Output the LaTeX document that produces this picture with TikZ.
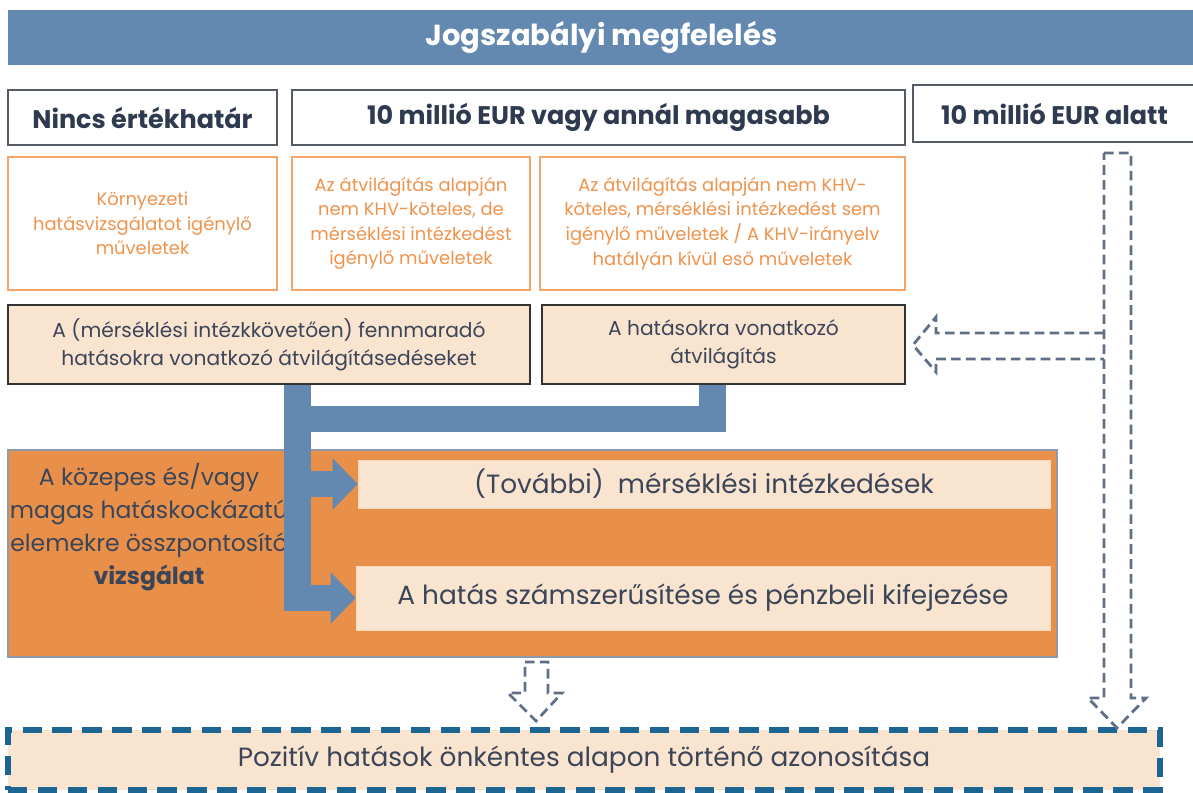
\documentclass[tikz,border=0pt]{standalone}
\usepackage{fontspec}
\setmainfont{Poppins}
\usetikzlibrary{arrows.meta}

\definecolor{titleblue}{HTML}{6389B0}
\definecolor{hdrtext}{HTML}{2E3A4F}
\definecolor{hdrline}{HTML}{565B68}
\definecolor{orline}{HTML}{F4A56A}
\definecolor{ortext}{HTML}{F0934C}
\definecolor{beige}{HTML}{F9E4D0}
\definecolor{bigorange}{HTML}{E89049}
\definecolor{slate}{HTML}{5F6F86}
\definecolor{dashblue}{HTML}{1A6592}
\definecolor{bodytext}{HTML}{3C4558}

\tikzset{
  hdrbox/.style={rectangle,draw=hdrline,line width=0.9pt,fill=white,text=hdrtext,font=\fontsize{14.5}{17}\selectfont\bfseries,minimum height=1.1cm},
  opbox/.style={rectangle,draw=orline,line width=0.8pt,fill=white,text=ortext,font=\fontsize{10.2}{14}\selectfont,align=center,minimum height=2.66cm},
  scrbox/.style={rectangle,draw=black!80,line width=0.9pt,fill=beige,text=bodytext,font=\fontsize{11.5}{16}\selectfont,align=center,minimum height=1.58cm},
  measbox/.style={rectangle,fill=beige,draw=beige!90!orange,text=bodytext,font=\fontsize{15}{18}\selectfont},
  pipe/.style={draw=titleblue,line width=0.54cm,line join=miter},
  pipearrow/.style={pipe,-{Triangle[width=1cm,length=0.5cm]}},
  blockarrow/.style={draw=slate,line width=1.6pt,dash pattern=on 5.5pt off 3pt,line join=miter},
}

\begin{document}
\begin{tikzpicture}[x=0.02cm,y=-0.02cm]
  \useasboundingbox (0,0) rectangle (1193,793);

  % title bar
  \node[rectangle,fill=titleblue,text=white,font=\fontsize{16.5}{19}\selectfont\bfseries,minimum width=23.74cm,minimum height=1.1cm] (title) at (601.5,37.5) {Jogszabályi megfelelés};

  % value thresholds
  \node[hdrbox,minimum width=5.38cm] (nolimit) at (142.5,117.5) {Nincs értékhatár};
  \node[hdrbox,minimum width=12.26cm] (above) at (598.5,117.5) {10 millió EUR vagy annál magasabb};
  \node[hdrbox,minimum width=5.66cm,minimum height=1.14cm] (below) at (1054.5,113.5) {10 millió EUR alatt};

  % operations
  \node[opbox,minimum width=5.38cm] (eia) at (142.5,223.5) {Környezeti\\hatásvizsgálatot igénylő\\műveletek};
  \node[opbox,minimum width=4.76cm] (mitig) at (411,223.5) {Az átvilágítás alapján\\nem KHV-köteles, de\\mérséklési intézkedést\\igénylő műveletek};
  \node[opbox,minimum width=7.3cm] (noeia) at (722.5,223.5) {Az átvilágítás alapján nem KHV-\\köteles, mérséklési intézkedést sem\\igénylő műveletek / A KHV-irányelv\\hatályán kívül eső műveletek};

  % screening
  \node[scrbox,minimum width=10.44cm] (resid) at (269,344.5) {A (mérséklési intézkkövetően) fennmaradó\\hatásokra vonatkozó átvilágításedéseket};
  \node[scrbox,minimum width=7.26cm] (screen) at (723.5,344.5) {A hatásokra vonatkozó\\átvilágítás};

  % focused assessment
  \node[rectangle,fill=bigorange,draw=slate!70,line width=0.8pt,minimum width=20.98cm,minimum height=4.14cm] (focus) at (532.5,553.5) {};
  \node[text=bodytext,font=\fontsize{13.4}{18.7}\selectfont,align=center] (focustxt) at (149,527) {A közepes és/vagy\\magas hatáskockázatú\\elemekre összpontosító\\\textbf{vizsgálat}};
  \node[measbox,minimum width=13.84cm,minimum height=0.96cm] (further) at (704,484) {(További) \ mérséklési intézkedések};
  \node[measbox,minimum width=13.88cm,minimum height=1.28cm] (quant) at (703,598) {A hatás számszerűsítése és pénzbeli kifejezése};

  % positive impacts
  \node[rectangle,fill=beige,draw=dashblue,line width=3pt,dash pattern=on 11pt off 6pt,minimum width=23.04cm,minimum height=1.2cm,text=bodytext,font=\fontsize{15}{18}\selectfont] (positive) at (584,760) {Pozitív hatások önkéntes alapon történő azonosítása};

  % blue pipe
  \coordinate (stemL) at (297,419);
  \coordinate (stemR) at (712,419);
  \draw[pipe] (stemL) -- (stemR) -- (screen.south -| stemR);
  \draw[pipearrow] (resid.south -| stemL) |- (quant.west);
  \draw[pipearrow] (stemL |- further.west) -- (further.west);

  % dashed block arrows
  \draw[blockarrow] (1104,153) -- (1131,153) -- (1131,698) -- (1146,698) -- (1117,728) -- (1088,698) -- (1104,698) -- cycle;
  \draw[blockarrow] (1104,333) -- (936,333) -- (936,317) -- (913,345) -- (936,372) -- (936,359) -- (1104,359);
  \draw[blockarrow] (525,662) -- (548,662) -- (548,693) -- (562,693) -- (536,721) -- (508,693) -- (525,693) -- cycle;
\end{tikzpicture}
\end{document}
